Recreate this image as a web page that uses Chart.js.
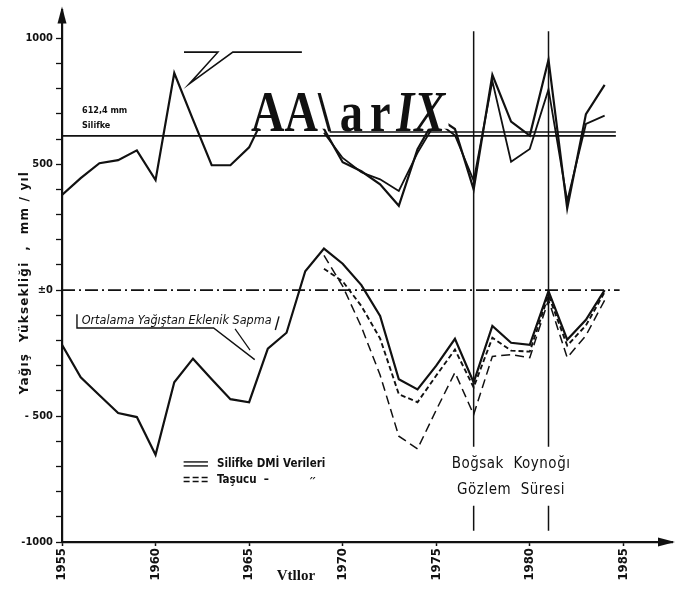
<!DOCTYPE html>
<html><head><meta charset="utf-8">
<script src="https://cdn.jsdelivr.net/npm/chart.js@4"></script>
<style>html,body{margin:0;padding:0;background:#fff}#wrap{width:685px;height:595px;position:relative}</style>
</head><body><div id="wrap"><canvas id="c" width="685" height="595"></canvas></div>
<script>
// ---------- DATA ----------
const years = [1955,1956,1957,1958,1959,1960,1961,1962,1963,1964,1965,1966,1967,1968,1969,1970,1971,1972,1973,1974,1975,1976,1977,1978,1979,1980,1981,1982,1983,1984];
// annual precipitation, Silifke (mm/yıl)
const silifkeRain = [378,445,504,516,555,437,862,677,496,496,567,720,700,730,640,508,472,420,335,560,690,640,400,855,669,614,915,325,699,815];
const tasucuYears = [1969,1970,1971,1972,1973,1974,1975,1976,1977,1978,1979,1980,1981,1982,1983,1984];
// annual precipitation, Taşucu (mm/yıl)
const tasucuRain = [625,525,468,440,394,545,670,615,435,830,510,561,797,354,660,693];
// cumulative deviation from mean precipitation
const silifkeDeviation = [-217,-346,-417,-488,-504,-654,-366,-272,-354,-433,-445,-232,-169,75,165,105,20,-102,-354,-394,-300,-193,-366,-142,-209,-217,-4,-197,-118,0];
const tasucuDevA = [85,35,-63,-192,-413,-445,-339,-236,-386,-189,-240,-244,-20,-220,-140,-8];
const tasucuDevB = [138,16,-146,-337,-580,-630,-476,-327,-494,-263,-256,-268,-39,-268,-180,-40];
const xTickYears = [1955,1960,1965,1970,1975,1980,1985];
const yTickValues = [1000,500,0,-500,-1000];
const yTickTexts = ['1000','500','±0','- 500','-1000'];
const silifkeMean = 612.4;
const tasucuMean = 628;
const observationYears = [1977,1981];

// ---------- reference-line extents (not data) ----------
const X_MIN = 1955, X_MAX = 1987.6, Y_MIN = -1000, Y_MAX = 1114;
const zeroLineEnd = 1984.8, meanLineEnd = 1984.6, tasucuMeanStart = 1969.3;
const obsSpans = [[1028,-622],[-856,-955]];

const COND = '"DejaVu Sans Condensed","Liberation Sans Narrow","DejaVu Sans",sans-serif';
const SANS = '"DejaVu Sans",sans-serif';
const SERIF = '"Liberation Serif","Times New Roman",serif';
const INK = '#111';

const pts = (xs, ys) => xs.map((x, i) => ({x, y: ys[i]}));
const hline = (x0, x1, v) => [{x: x0, y: v}, {x: x1, y: v}];
const base = {borderColor: INK, pointRadius: 0, tension: 0, fill: false, borderCapStyle: 'butt', borderJoinStyle: 'miter'};

const datasets = [
  {...base, label: 'Silifke', data: pts(years, silifkeRain), borderWidth: 2.2},
  {...base, label: 'Taşucu', data: pts(tasucuYears, tasucuRain), borderWidth: 1.8},
  {...base, label: 'Silifke sapma', data: pts(years, silifkeDeviation), borderWidth: 2.2},
  {...base, label: 'Taşucu sapma A', data: pts(tasucuYears, tasucuDevA), borderWidth: 1.9, borderDash: [5, 3]},
  {...base, label: 'Taşucu sapma B', data: pts(tasucuYears, tasucuDevB), borderWidth: 1.5, borderDash: [9, 5]},
  {...base, label: 'zero', data: hline(X_MIN, zeroLineEnd, 0), borderWidth: 1.8, borderDash: [13, 4, 2, 4]},
  {...base, label: 'mean Silifke', data: hline(X_MIN, meanLineEnd, silifkeMean), borderWidth: 1.8},
  {...base, label: 'mean Taşucu', data: hline(tasucuMeanStart, meanLineEnd, tasucuMean), borderWidth: 1.6},
];
observationYears.forEach(yr => obsSpans.forEach(s => {
  datasets.push({...base, label: 'obs', data: [{x: yr, y: s[0]}, {x: yr, y: s[1]}], borderWidth: 1.5});
}));

// annotation leader lines in data units (year, value)
const topLeader = [[1961.52,945],[1963.33,945],[1961.8,819],[1964.13,945],[1967.82,945]];
const bracketLeader = [[1955.8,-96],[1955.8,-150],[1963.1,-150],[1965.3,-276]];
const bracketLeader2 = [[1964.25,-154],[1965.05,-238]];
const bracketRight = [[1966.6,-104],[1966.4,-158]];

const decor = {
  id: 'decor',
  afterDraw(chart) {
    const ctx = chart.ctx, xs = chart.scales.x, ys = chart.scales.y, a = chart.chartArea;
    const P = (p) => [xs.getPixelForValue(p[0]), ys.getPixelForValue(p[1])];
    const poly = (arr, w) => {
      ctx.beginPath();
      arr.forEach((p, i) => { const [x, y] = P(p); i ? ctx.lineTo(x, y) : ctx.moveTo(x, y); });
      ctx.lineWidth = w; ctx.strokeStyle = INK; ctx.setLineDash([]); ctx.stroke();
    };
    ctx.save();
    ctx.fillStyle = INK;
    // axis arrows
    ctx.beginPath();
    ctx.moveTo(a.left, a.top - 3); ctx.lineTo(a.left - 4.5, a.top + 14); ctx.lineTo(a.left + 4.5, a.top + 14); ctx.closePath(); ctx.fill();
    ctx.beginPath();
    ctx.moveTo(a.right + 3, a.bottom); ctx.lineTo(a.right - 14, a.bottom - 4.5); ctx.lineTo(a.right - 14, a.bottom + 4.5); ctx.closePath(); ctx.fill();

    // leader lines
    poly(topLeader, 1.6);
    poly(bracketLeader, 1.4);
    poly(bracketLeader2, 1.2);
    poly(bracketRight, 1.4);

    // y axis title
    ctx.save();
    ctx.translate(a.left - 37, ys.getPixelForValue(30));
    ctx.rotate(-Math.PI / 2);
    ctx.font = 'bold 12px ' + SANS;
    ctx.letterSpacing = '1.2px';
    ctx.textAlign = 'center'; ctx.textBaseline = 'middle';
    ctx.fillText('Yağış  Yüksekliği  ,  mm / yıl', 0, 0);
    ctx.restore();
    ctx.letterSpacing = '0px';

    // mean label
    ctx.textAlign = 'left'; ctx.textBaseline = 'middle';
    ctx.font = 'bold 9px ' + COND;
    ctx.fillText('612,4 mm', a.left + 20, ys.getPixelForValue(712));
    ctx.fillText('Silifke', a.left + 20, ys.getPixelForValue(653));

    // bracket annotation text
    ctx.font = 'italic 12.5px ' + COND;
    ctx.fillText('Ortalama Yağıştan Eklenik Sapma', xs.getPixelForValue(1956.05), ys.getPixelForValue(-122));

    // legend
    const lx0 = xs.getPixelForValue(1961.5), lx1 = xs.getPixelForValue(1962.8);
    const ly1 = ys.getPixelForValue(-690), ly2 = ys.getPixelForValue(-752);
    ctx.lineWidth = 1.4;
    [-2, 2].forEach(d => {
      ctx.setLineDash([]); ctx.beginPath(); ctx.moveTo(lx0, ly1 + d); ctx.lineTo(lx1, ly1 + d); ctx.stroke();
      ctx.setLineDash([6, 3]); ctx.beginPath(); ctx.moveTo(lx0, ly2 + d); ctx.lineTo(lx1, ly2 + d); ctx.stroke();
    });
    ctx.setLineDash([]);
    ctx.font = 'bold 11.5px ' + COND;
    ctx.fillText('Silifke DMİ Verileri', lx1 + 9, ly1);
    ctx.fillText('Taşucu  –', lx1 + 9, ly2);
    ctx.fillText('״', xs.getPixelForValue(1968.2), ly2);

    // observation period label
    ctx.textAlign = 'center';
    ctx.font = '15px ' + COND;
    const cx = xs.getPixelForValue(1979.0);
    ctx.letterSpacing = '0.5px';
    ctx.fillText('Boğsak  Koynoğı', cx, ys.getPixelForValue(-690));
    ctx.fillText('Gözlem  Süresi', cx, ys.getPixelForValue(-793));
    ctx.letterSpacing = '0px';

    // x axis title
    ctx.font = 'bold 15px ' + SERIF;
    ctx.fillText('Vtllor', xs.getPixelForValue(1967.5), a.bottom + 34);

    // overlaid scan text (sits on an opaque patch, as in the scan)
    ctx.textAlign = 'left'; ctx.textBaseline = 'alphabetic';
    ctx.save();
    ctx.translate(xs.getPixelForValue(1965.1), ys.getPixelForValue(633));
    ctx.scale(0.8, 1);
    const fB = 'bold 58px ' + SERIF, fBI = 'italic bold 58px ' + SERIF;
    const parts = [['AA\\', fB, 11], ['a', fB, 9], ['r', fB, 7], ['IX', fBI, 0]];
    let total = 0;
    parts.forEach(p => { ctx.font = p[1]; total += ctx.measureText(p[0]).width + p[2]; });
    ctx.fillStyle = '#fff';
    ctx.fillRect(-4, -43, total + 8, 41);
    ctx.fillStyle = INK;
    let x = 0;
    parts.forEach(p => { ctx.font = p[1]; ctx.fillText(p[0], x, 0); x += ctx.measureText(p[0]).width + p[2]; });
    ctx.restore();
    ctx.restore();
  }
};

new Chart(document.getElementById('c'), {
  type: 'line',
  data: {datasets},
  options: {
    responsive: false, animation: false, devicePixelRatio: 1,
    layout: {padding: {top: 5, right: 13, left: 0, bottom: 0}},
    plugins: {legend: {display: false}, tooltip: {enabled: false}},
    scales: {
      x: {
        type: 'linear', min: X_MIN, max: X_MAX,
        afterFit(s) { s.height = 53; },
        afterBuildTicks(s) { s.ticks = xTickYears.map(v => ({value: v})); },
        border: {display: true, color: INK, width: 2.2},
        grid: {drawOnChartArea: false, drawTicks: true, tickLength: 4, tickColor: INK, tickWidth: 1.5},
        ticks: {minRotation: 90, maxRotation: 90, padding: 2, color: INK, autoSkip: false,
                font: {family: COND, size: 13, weight: 'bold'}, callback: v => String(v)}
      },
      y: {
        type: 'linear', min: Y_MIN, max: Y_MAX,
        afterFit(s) { s.width = 62; },
        afterBuildTicks(s) {
          const t = [];
          for (let v = -1000; v <= 1000; v += 100) t.push({value: v});
          s.ticks = t;
        },
        border: {display: true, color: INK, width: 2.2},
        grid: {drawOnChartArea: false, drawTicks: true, tickLength: 6, tickColor: INK, tickWidth: 1.3},
        ticks: {padding: 3, color: INK, autoSkip: false,
                font: {family: COND, size: 11, weight: 'bold'},
                callback: v => { const i = yTickValues.indexOf(v); return i >= 0 ? yTickTexts[i] : ''; }}
      }
    }
  },
  plugins: [decor]
});
</script></body></html>
